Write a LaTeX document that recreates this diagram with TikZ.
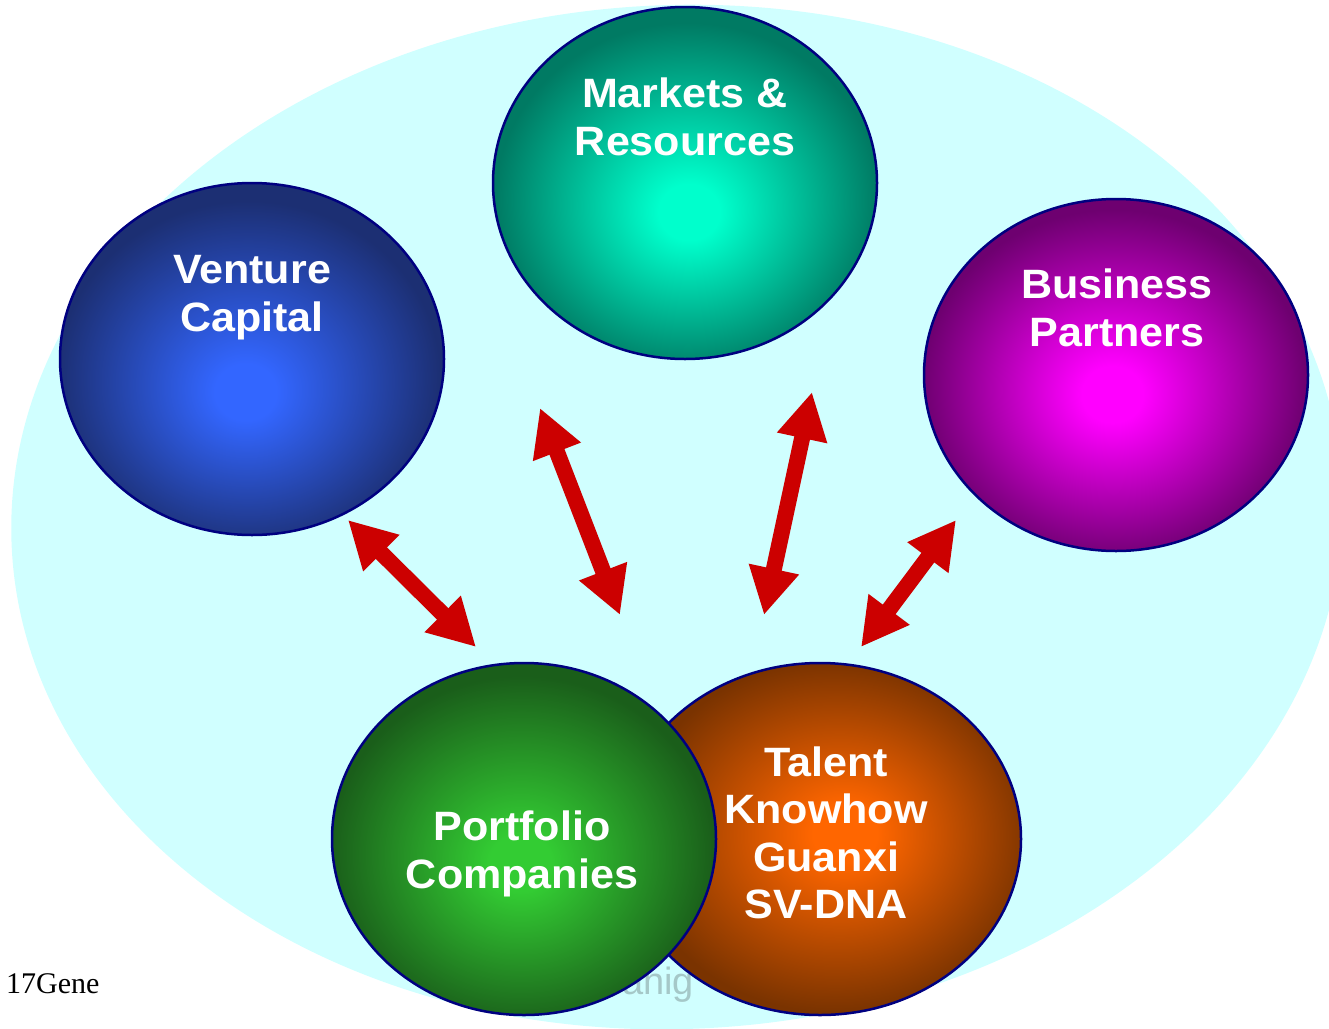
\documentclass[tikz,border=0pt]{standalone}
\usepackage{fontspec}
\setmainfont{Liberation Sans}
\newfontfamily\lblface{Liberation Sans}[FakeStretch=1.05]
\newfontfamily\serifface{Liberation Serif}
\usetikzlibrary{arrows.meta,shapes.geometric}
\definecolor{bgcyan}{RGB}{208,255,255}
\definecolor{navyline}{RGB}{0,0,128}
\definecolor{arrowred}{RGB}{204,0,0}
\definecolor{wmark}{RGB}{165,200,200}
\definecolor{vcin}{RGB}{51,102,255}
\definecolor{vcout}{RGB}{28,47,115}
\definecolor{mrin}{RGB}{0,255,204}
\definecolor{mrout}{RGB}{0,122,99}
\definecolor{bpin}{RGB}{255,0,255}
\definecolor{bpout}{RGB}{110,0,112}
\definecolor{pcin}{RGB}{51,204,51}
\definecolor{pcout}{RGB}{26,94,26}
\definecolor{tkin}{RGB}{255,102,0}
\definecolor{tkout}{RGB}{122,51,0}
\pgfdeclareradialshading{vcshade}{\pgfpoint{-0.9bp}{-5.1bp}}{color(0bp)=(vcin);color(4bp)=(vcin);color(25bp)=(vcout);color(50bp)=(vcout)}
\pgfdeclareradialshading{mrshade}{\pgfpoint{0.6bp}{-4.5bp}}{color(0bp)=(mrin);color(4bp)=(mrin);color(25bp)=(mrout);color(50bp)=(mrout)}
\pgfdeclareradialshading{bpshade}{\pgfpoint{-0.5bp}{-3.0bp}}{color(0bp)=(bpin);color(4bp)=(bpin);color(25bp)=(bpout);color(50bp)=(bpout)}
\pgfdeclareradialshading{pcshade}{\pgfpoint{-0.5bp}{-3.7bp}}{color(0bp)=(pcin);color(4bp)=(pcin);color(25bp)=(pcout);color(50bp)=(pcout)}
\pgfdeclareradialshading{tkshade}{\pgfpoint{3.4bp}{0.8bp}}{color(0bp)=(tkin);color(4bp)=(tkin);color(25bp)=(tkout);color(50bp)=(tkout)}
\begin{document}
\begin{tikzpicture}[x=1pt,y=-1pt,
  ball/.style={ellipse, draw=navyline, line width=2.5pt, minimum width=384pt, minimum height=352pt, inner sep=0pt},
  lbl/.style={font=\lblface\bfseries\fontsize{41}{48}\selectfont, text=white, anchor=base, inner sep=0pt},
  dblarrow/.style={draw=arrowred, line width=16pt, {Triangle[length=47pt,width=48pt]}-{Triangle[length=47pt,width=48pt]}}]
\useasboundingbox (0,0) rectangle (1329,1028);
\clip (0,0) rectangle (1329,1028);
% background
\fill[bgcyan, rotate around={2.4:(677,517)}] (677,517) ellipse [x radius=666pt, y radius=512pt];
% watermark
\node[anchor=base west, inner sep=0pt, text=wmark, font=\fontsize{38}{44}\selectfont] (wm) at (622,994) {anig};
% arrows
\coordinate (a1s) at (348,520); \coordinate (a1e) at (476,647);
\coordinate (a2s) at (540,408); \coordinate (a2e) at (620,615);
\coordinate (a3s) at (812,392); \coordinate (a3e) at (764,615);
\coordinate (a4s) at (956,520); \coordinate (a4e) at (861,647);
\draw[dblarrow] (a1s) -- (a1e);
\draw[dblarrow] (a2s) -- (a2e);
\draw[dblarrow] (a3s) -- (a3e);
\draw[dblarrow] (a4s) -- (a4e);
% balls
\node[ball, shading=mrshade] (mr) at (685,183) {};
\node[ball, shading=vcshade] (vc) at (252,359) {};
\node[ball, shading=bpshade] (bp) at (1116,375) {};
\node[ball, shading=tkshade, minimum width=402pt] (tk) at (820,839) {};
\node[ball, shading=pcshade] (pc) at (524,839) {};
% labels
\node[lbl] (vc1) at (252,283) {Venture};
\node[lbl] (vc2) at (252,331) {Capital};
\node[lbl] (mr1) at (685,107) {Markets \&};
\node[lbl] (mr2) at (685,155) {Resources};
\node[lbl] (bp1) at (1117,298) {Business};
\node[lbl] (bp2) at (1117,346) {Partners};
\node[lbl] (pc1) at (522,840) {Portfolio};
\node[lbl] (pc2) at (522,888) {Companies};
\node[lbl] (tk1) at (826,776) {Talent};
\node[lbl] (tk2) at (826,823) {Knowhow};
\node[lbl] (tk3) at (826,871) {Guanxi};
\node[lbl] (tk4) at (826,918) {SV-DNA};
\node[anchor=base west, inner sep=0pt, font=\serifface\fontsize{30}{36}\selectfont] (gene) at (6,993) {17Gene};
\end{tikzpicture}
\end{document}
